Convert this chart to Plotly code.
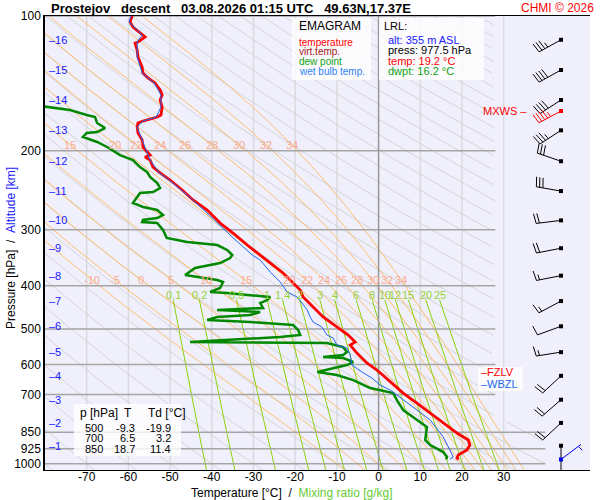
import numpy as np
import plotly.graph_objects as go

# --- sounding values (pressure hPa / temperature degC) ---
temp_p = [100, 103.1, 105.8, 110.3, 111.4, 114.3, 114.9, 119.1, 123.5, 130.0,
          134.1, 137.5, 141.1, 146.3, 150.1, 154.0, 159.7, 166.4, 168.1, 171.6,
          173.3, 177.0, 182.5, 189.2, 196.1, 201.2, 204.4, 206.5, 209.7, 217.4,
          224.1, 232.4, 244.6, 257.5, 271.1, 289.9, 305.2, 324.6, 338.2, 356.1,
          374.8, 394.6, 409.1, 424.1, 446.5, 470.0, 497.4, 515.6, 534.5, 542.8,
          565.6, 595.4, 617.3, 656.6, 694.8, 731.5, 778.0, 827.5, 853.4, 884.6,
          907.7, 931.3, 955.6, 970.5, 977.5]
temp_t = [-59.1, -59.6, -58.9, -56.5, -56.0, -57.7, -58.4, -57.9, -57.7, -56.7,
          -56.5, -55.3, -53.6, -52.4, -51.9, -52.4, -51.9, -52.2, -53.1, -56.5,
          -57.7, -57.9, -57.7, -56.7, -56.5, -55.5, -54.8, -56.0, -54.8, -54.1,
          -52.4, -50.0, -47.1, -44.5, -41.1, -38.0, -34.9, -31.5, -29.1, -26.0,
          -22.9, -20.5, -18.8, -18.1, -15.7, -13.3, -9.6, -7.3, -5.6, -6.8,
          -5.2, -2.8, -0.4, 2.8, 5.9, 9.2, 13.1, 17.1, 18.8, 21.5,
          21.9, 21.2, 19.1, 18.8, 19.2]

dwpt_p = [158.9, 162.1, 166.4, 168.1, 173.3, 177.9, 181.6, 182.5, 186.3, 191.1,
          196.1, 204.4, 209.7, 217.4, 223.0, 228.8, 236.0, 242.1, 247.2, 248.4,
          253.6, 261.5, 267.0, 271.1, 278.2, 282.5, 285.4, 288.4, 289.9, 300.5,
          313.1, 319.6, 324.6, 333.0, 341.7, 347.0, 356.1, 365.3, 378.7, 384.6,
          388.6, 392.6, 404.9, 413.3, 415.5, 419.7, 424.1, 430.7, 437.4, 448.7,
          453.4, 458.1, 465.2, 470.0, 477.3, 482.3, 489.7, 502.5, 515.6, 520.9,
          534.5, 537.2, 548.4, 562.7, 571.4, 577.4, 580.4, 592.4, 601.6, 623.6,
          633.4, 649.9, 666.8, 677.1, 694.8, 720.3, 758.3, 786.1, 827.5, 853.4,
          884.6, 907.7, 941.0, 965.5, 977.5]
dwpt_t = [-81.0, -74.0, -70.0, -68.0, -67.5, -65.6, -67.5, -70.0, -70.9, -67.5,
          -65.1, -62.0, -58.9, -57.2, -55.5, -54.8, -53.1, -52.4, -54.1, -57.2,
          -57.9, -58.9, -56.5, -53.1, -51.7, -53.1, -56.5, -56.7, -53.1, -51.7,
          -50.8, -45.9, -38.7, -36.3, -35.1, -35.6, -38.0, -44.0, -46.4, -42.1,
          -38.7, -37.3, -38.0, -40.4, -36.3, -31.5, -26.0, -26.7, -28.4, -27.7,
          -38.7, -28.4, -30.8, -38.7, -41.1, -30.8, -20.5, -19.3, -18.8, -23.6,
          -45.2, -12.4, -8.5, -7.6, -8.5, -13.3, -8.5, -6.1, -7.6, -14.7,
          -10.0, -6.1, -3.7, -2.0, 3.5, 4.4, 5.9, 8.3, 11.6, 11.4,
          11.2, 12.4, 15.5, 16.4, 16.2]

wetb_p = [100, 103.1, 110.3, 114.3, 123.5, 134.1, 141.1, 150.1, 159.7, 168.1,
          171.6, 177.0, 189.2, 201.2, 209.7, 224.1, 232.4, 251.0, 273.9, 311.5,
          341.7, 350.6, 372.9, 392.6, 413.3, 424.1, 437.4, 453.4, 470.0, 482.3,
          494.8, 515.6, 523.6, 542.8, 551.2, 571.4, 601.6, 623.6, 643.2, 666.8,
          684.2, 720.3, 758.3, 798.3, 871.1, 931.3, 965.5, 977.5]
wetb_t = [-59.4, -59.8, -56.7, -57.9, -57.9, -56.7, -53.8, -52.2, -52.2, -53.3,
          -56.5, -57.9, -56.7, -55.5, -54.8, -52.6, -50.2, -45.9, -41.4, -35.1,
          -30.3, -28.4, -26.0, -23.6, -21.9, -19.5, -18.3, -17.1, -16.4, -15.7,
          -13.6, -12.4, -10.9, -10.0, -7.6, -6.8, -6.4, -4.0, -1.6, 0.4,
          2.8, 5.9, 9.2, 12.4, 15.5, 17.1, 17.9, 17.1]

# altitude marks and winds at each km
alt_km = list(range(1, 17))
alt_p = [911, 810, 719, 636, 563, 493, 433, 380, 330, 286, 246, 211, 180, 154, 132, 113]
wind_dir = [180, 227, 229, 227, 261, 250, 242, 259, 259, 263, 280, 289, 237, 237, 241, 241]
wind_kt = [10, 20, 20, 20, 15, 10, 15, 15, 20, 20, 30, 30, 35, 40, 40, 35]
mxws_p, mxws_dir, mxws_kt = 163, 242, 45
sfc_p, sfc_dir, sfc_kt = 977.5, 53, 5

p_ticks = [100, 200, 300, 400, 500, 600, 700, 850, 925, 1000]
t_ticks = [-70, -60, -50, -40, -30, -20, -10, 0, 10, 20, 30]
theta_w = [-10, -5, 0, 5, 10, 15, 20, 22, 24, 26, 28, 30, 32, 34]
mix_ratio = [0.1, 0.2, 0.5, 1, 1.4, 2, 3, 4, 6, 8, 10, 12, 15, 20, 25]

tab_p = ["500", "700", "850"]
tab_t = ["-9.3", "6.5", "18.7"]
tab_td = ["-19.9", "3.2", "11.4"]

# --- geometry ---
W, H = 600, 500
ML, MR, MT, MB = 45, 10, 16, 30
x_lo, x_hi = -80.0, 50.7
p_bot, p_top = 1032.0, 100.0
kx = (W - ML - MR) / (x_hi - x_lo)
ky = (H - MT - MB) / np.log(p_bot / p_top)
FONT = "Liberation Sans, Arial, sans-serif"


def px(x):
    return (x - ML) / (W - ML - MR)


def py(y):
    return (H - MB - y) / (H - MT - MB)


def es(tc):
    return 6.112 * np.exp(17.67 * tc / (tc + 243.5))


fig = go.Figure()


def add_lines(segs, color, width, dash=None):
    xs, ys = [], []
    for sx, sy in segs:
        xs += list(sx) + [None]
        ys += list(sy) + [None]
    fig.add_trace(go.Scatter(x=xs, y=ys, mode="lines", hoverinfo="skip", showlegend=False,
                             line=dict(color=color, width=width, dash=dash)))


# isotherms
add_lines([([t, t], [p_top, p_bot]) for t in t_ticks if t != 0], "rgb(218,218,222)", 1.5)

# dry adiabats
pp = np.exp(np.linspace(np.log(p_top), np.log(p_bot), 200))
segs = []
for th in range(-80, 330, 10):
    tt = (th + 273.15) * (pp / 1000.0) ** 0.2857 - 273.15
    lim = np.where(pp < 800, 28.0, 40.0)
    tt = np.where(tt > lim, np.nan, tt)
    segs.append(([None if np.isnan(v) else v for v in tt], pp))
add_lines(segs, "rgb(212,212,216)", 1)


# pseudo-adiabats
def moist(tw, plev):
    Rd, cp, Lv, eps = 287.04, 1005.7, 2.501e6, 0.622

    def f(tk, p):
        e = es(tk - 273.15)
        rs = eps * e / (p - e)
        return (Rd * tk + Lv * rs) / (cp + Lv * Lv * rs * eps / (Rd * tk * tk)) / p

    out = [tw + 273.15]
    for i in range(1, len(plev)):
        p0, h = plev[i - 1], plev[i] - plev[i - 1]
        t = out[-1]
        k1 = f(t, p0)
        k2 = f(t + h * k1 / 2, p0 + h / 2)
        k3 = f(t + h * k2 / 2, p0 + h / 2)
        k4 = f(t + h * k3, p0 + h)
        out.append(t + h * (k1 + 2 * k2 + 2 * k3 + k4) / 6)
    return np.array(out) - 273.15


p_up = np.linspace(1000, p_top, 361)
p_dn = np.linspace(1000, p_bot, 5)
segs, lab = [], []
for tw in theta_w:
    up = moist(tw, p_up)
    dn = moist(tw, p_dn)
    segs.append((list(dn[::-1]) + list(up[1:]), list(p_dn[::-1]) + list(p_up[1:])))
    lab.append(up)
add_lines(segs, "rgb(255,190,110)", 1)

# mixing ratio lines
pm = np.linspace(430, p_bot, 40)
segs = []
for w in mix_ratio:
    e = pm * w / (622.0 + w)
    a = np.log(e / 6.112)
    segs.append((243.5 * a / (17.67 - a), pm))
add_lines(segs, "rgb(140,210,10)", 1)

# pressure lines
segs = []
for p in p_ticks:
    segs.append(([x_lo, 40.0 if p >= 850 else 28.0], [p, p]))
add_lines(segs, "rgb(165,165,165)", 1.5)
add_lines([([0, 0], [p_top, p_bot])], "rgb(150,150,150)", 1.5)

# profiles
fig.add_trace(go.Scatter(x=dwpt_t, y=dwpt_p, mode="lines", hoverinfo="skip", showlegend=False,
                         line=dict(color="#008800", width=2.5)))
fig.add_trace(go.Scatter(x=temp_t, y=temp_p, mode="lines", hoverinfo="skip", showlegend=False,
                         line=dict(color="#ff0000", width=2.8)))
fig.add_trace(go.Scatter(x=wetb_t, y=wetb_p, mode="lines", hoverinfo="skip", showlegend=False,
                         line=dict(color="#2266ee", width=1)))

# wind barbs
BARB_X = x_lo + (561 - ML) / kx


def to_data(p0, dx, dy):
    return BARB_X + dx / kx, p0 * np.exp(-dy / ky)


def barb(p0, d, spd, staff=25.0):
    r = np.radians(d)
    u = np.array([np.sin(r), np.cos(r)])
    perp = np.array([u[1], -u[0]])
    b = perp * np.cos(0.15) + u * np.sin(0.15)
    pts = [(np.zeros(2), u * staff)]
    pos = staff
    for _ in range(int(spd // 10)):
        pts.append((u * pos, u * pos + b * 10))
        pos -= 3.3
    if spd % 10 >= 5:
        if spd < 10:
            pos -= 3.3
        pts.append((u * pos, u * pos + b * 5.5))
    segs = []
    for a, c in pts:
        x0, y0 = to_data(p0, a[0], a[1])
        x1, y1 = to_data(p0, c[0], c[1])
        segs.append(([x0, x1], [y0, y1]))
    return segs


segs = []
for p, d, s in zip(alt_p, wind_dir, wind_kt):
    segs += barb(p, d, s)
add_lines(segs, "black", 1)
add_lines(barb(mxws_p, mxws_dir, mxws_kt), "red", 1)
add_lines(barb(sfc_p, sfc_dir, sfc_kt), "#0000ee", 1)
fig.add_trace(go.Scatter(x=[BARB_X] * len(alt_p), y=alt_p, mode="markers", hoverinfo="skip",
                         showlegend=False, marker=dict(symbol="square", size=4, color="black")))
fig.add_trace(go.Scatter(x=[BARB_X, BARB_X], y=[mxws_p, sfc_p], mode="markers", hoverinfo="skip",
                         showlegend=False, marker=dict(symbol="square", size=4, color=["red", "#0000ee"])))

ann = []


def txt(x, y, s, color="black", size=11, xanchor="left", xref="paper", yref="paper", **kw):
    ann.append(dict(x=x, y=y, xref=xref, yref=yref, text=s, showarrow=False, xanchor=xanchor,
                    yanchor=kw.pop("yanchor", "middle"), font=dict(family=FONT, size=size, color=color), **kw))


# moist adiabat labels
for tw, prof in zip(theta_w, lab):
    for pl in (389.0, 194.0):
        t = float(np.interp(-pl, -p_up, prof))
        if t > -77 and not (pl < 300 and tw < 15):
            txt(t, np.log10(pl), str(tw), "rgb(250,170,140)", 11, "center", "x", "y")
# mixing ratio labels
for w in mix_ratio:
    e = 430 * w / (622.0 + w)
    a = np.log(e / 6.112)
    txt(243.5 * a / (17.67 - a), np.log10(419), f"{w:g}", "rgb(150,210,50)", 11, "center", "x", "y")

# altitude marks
for k, p in zip(alt_km, alt_p):
    txt(px(47), np.log10(p), "\u2013" + str(k), "#1a1aff", 11, "left", "paper", "y")

shapes = []
for x0, x1, y0, y1 in [(292, 371, 18, 80), (379, 484, 18, 80), (74, 181, 404, 456), (478, 523, 367, 391)]:
    shapes.append(dict(type="rect", xref="paper", yref="paper", x0=px(x0), x1=px(x1), y0=py(y1), y1=py(y0),
                       fillcolor="rgba(255,255,255,0.8)", line=dict(width=0), layer="above"))

txt(px(297), py(26), "EMAGRAM", "black", 12)
for i, (s, c) in enumerate([("temperature", "#ff0000"), ("virt.temp.", "#a01818"),
                            ("dew point", "#10a010"), ("wet bulb temp.", "#3080f0")]):
    txt(px(297), py(42 + 9.8 * i), s, c, 10)
txt(px(382), py(26), "LRL:", "black", 11)
for i, (s, c) in enumerate([("alt: 355 m ASL", "#2020ff"), ("press: 977.5 hPa", "black"),
                            ("temp: 19.2 \u00b0C", "#ff0000"), ("dwpt: 16.2 \u00b0C", "#10a010")]):
    txt(px(386), py(40 + 10.3 * i), s, c, 11)

# table
txt(px(78), py(413), "p [hPa]", "black", 12)
txt(px(128), py(413), "T", "black", 12, "center")
txt(px(146), py(413), "Td [\u00b0C]", "black", 12)
for i in range(3):
    txt(px(94), py(428 + 10.3 * i), tab_p[i], "black", 11, "center")
    txt(px(137), py(428 + 10.3 * i), tab_t[i], "black", 11, "right")
    txt(px(173), py(428 + 10.3 * i), tab_td[i], "black", 11, "right")

# freezing levels
p_fz = float(np.interp(0, temp_t[52:54], temp_p[52:54]))
p_wb = float(np.interp(0, wetb_t[38:40], wetb_p[38:40]))
txt(px(479), np.log10(p_fz), "\u2013FZLV", "#ff0000", 11, "left", "paper", "y")
txt(px(479), np.log10(p_wb), "\u2013WBZL", "#2266ee", 11, "left", "paper", "y")
txt(px(529), np.log10(mxws_p), "MXWS \u2013", "#ff0000", 11, "right", "paper", "y")

# titles
txt(px(49), py(8), "<b>Prostejov\u00a0\u00a0\u00a0descent\u00a0\u00a0\u00a003.08.2026 01:15 UTC\u00a0\u00a0\u00a049.63N,17.37E</b>",
    "black", 13)
txt(px(596), py(8), "CHMI \u00a9 2026", "#ff0000", 12, "right")
txt(px(292), py(493), "Temperature [\u00b0C]\u00a0\u00a0/\u00a0\u00a0<span style='color:#66cc33'>Mixing ratio [g/kg]</span>",
    "black", 12, "center")
txt(px(11), py(248), "Pressure [hPa]\u00a0\u00a0/\u00a0\u00a0<span style='color:#1a1aff'>Altitude [km]</span>",
    "black", 12, "center", textangle=-90)

fig.update_layout(
    width=W, height=H,
    margin=dict(l=ML, r=MR, t=MT, b=MB),
    plot_bgcolor="#f0f0fc", paper_bgcolor="white",
    font=dict(family=FONT, size=12, color="black"),
    showlegend=False,
    annotations=ann, shapes=shapes,
    xaxis=dict(range=[x_lo, x_hi], showgrid=False, zeroline=False, tickvals=t_ticks,
               ticktext=[str(t) for t in t_ticks], ticks="", showline=True, linecolor="black",
               linewidth=1, mirror=True, fixedrange=True, ticklabelstandoff=-4),
    yaxis=dict(type="log", range=[np.log10(p_bot), np.log10(p_top)], showgrid=False, zeroline=False,
               tickvals=p_ticks, ticktext=[str(p) for p in p_ticks], ticks="", showline=True,
               linecolor="black", linewidth=1.5, fixedrange=True),
)

# page body has a default 8px margin; drop it so the figure sits at the window corner
fig.write_html("out.html", config={"displayModeBar": False},
               post_script="document.body.style.margin='0';")
